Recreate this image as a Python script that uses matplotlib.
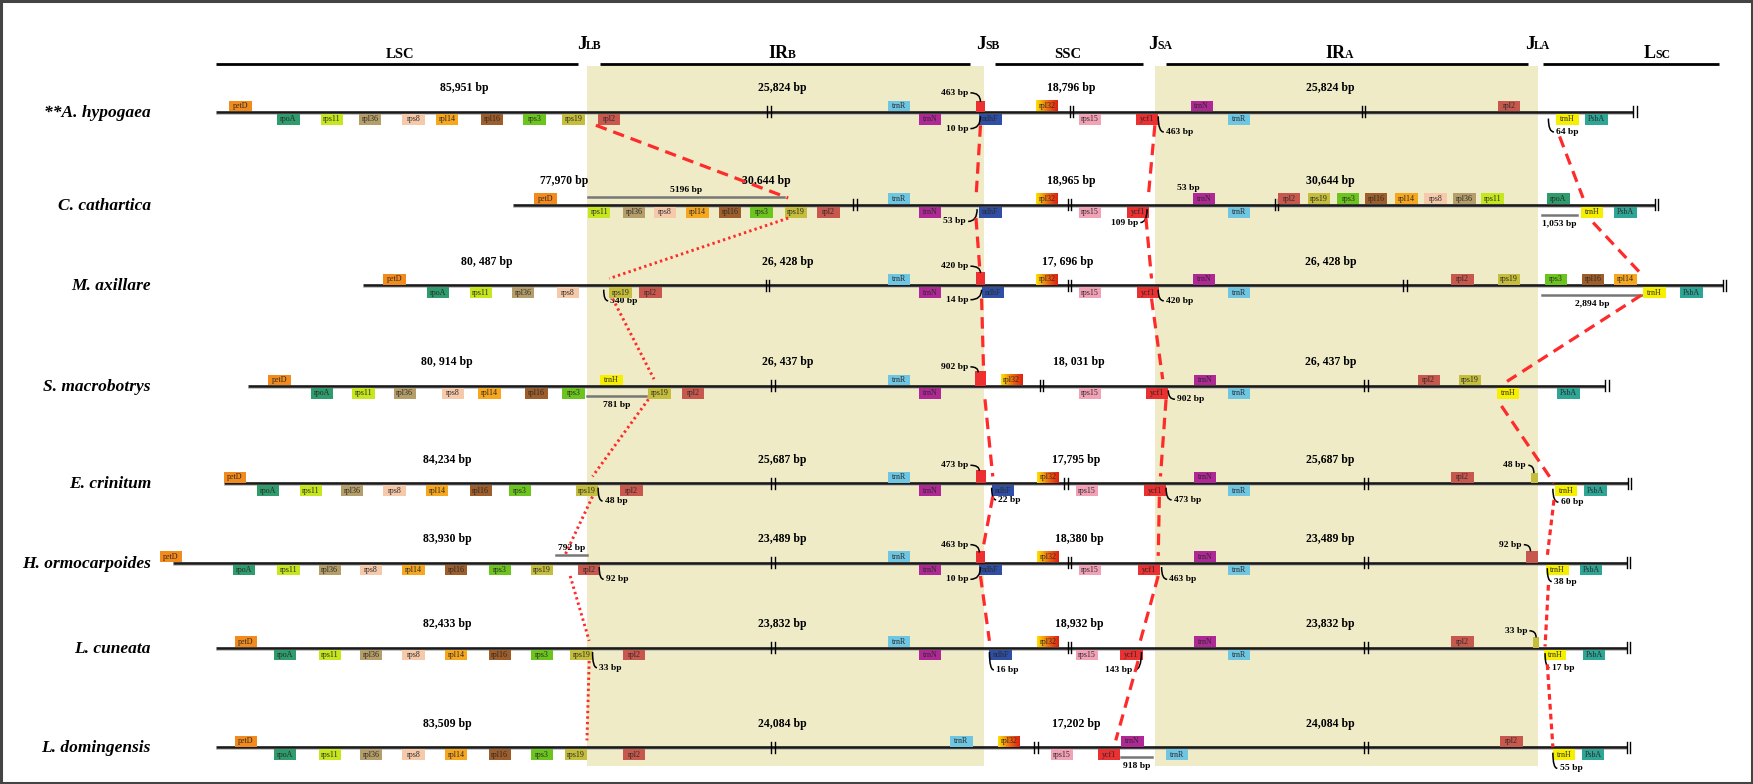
import numpy as np
import matplotlib.pyplot as plt
import matplotlib.patches as mpatches
from matplotlib.path import Path
from matplotlib.colors import LinearSegmentedColormap

plt.rcParams['font.family'] = ['Liberation Serif', 'DejaVu Serif']

# species and region sizes
species = ["**A. hypogaea", "C. cathartica", "M. axillare", "S. macrobotrys",
           "E. crinitum", "H. ormocarpoides", "L. cuneata", "L. domingensis"]
lsc_len = ["85,951 bp", "77,970 bp", "80, 487 bp", "80, 914 bp",
           "84,234 bp", "83,930 bp", "82,433 bp", "83,509 bp"]
ir_len = ["25,824 bp", "30,644 bp", "26, 428 bp", "26, 437 bp",
          "25,687 bp", "23,489 bp", "23,832 bp", "24,084 bp"]
ssc_len = ["18,796 bp", "18,965 bp", "17, 696 bp", "18, 031 bp",
           "17,795 bp", "18,380 bp", "18,932 bp", "17,202 bp"]

# genes: (name, start, side)  u = above line, d = below line
hyp_genes = [("petD", 205, "u"), ("rpoA", 248, "d"), ("rps11", 287, "d"), ("rpl36", 321, "d"),
             ("rps8", 360, "d"), ("rpl14", 390, "d"), ("rpl16", 430, "d"), ("rps3", 468, "d"),
             ("rps19", 503, "d"), ("rpl2", 535, "d"), ("trnR", 794, "u"), ("trnN", 822, "d"),
             ("ndhF", 876, "d"), ("rpl32", 927, "u"), ("rps15", 965, "d"), ("ycf1", 1016, "d"),
             ("trnN", 1065, "u"), ("trnR", 1098, "d"), ("rpl2", 1340, "u"), ("trnH", 1392, "d"),
             ("PsbA", 1418, "d")]
cat_genes = [("petD", 478, "u"), ("rps11", 526, "d"), ("rpl36", 557, "d"), ("rps8", 585, "d"),
             ("rpl14", 614, "d"), ("rpl16", 643, "d"), ("rps3", 671, "d"), ("rps19", 702, "d"),
             ("rpl2", 731, "d"), ("trnR", 794, "u"), ("trnN", 822, "d"), ("ndhF", 876, "d"),
             ("rpl32", 927, "u"), ("rps15", 965, "d"), ("ycf1", 1008, "d"), ("trnN", 1067, "u"),
             ("trnR", 1098, "d"), ("rpl2", 1143, "u"), ("rps19", 1170, "u"), ("rps3", 1196, "u"),
             ("rpl16", 1221, "u"), ("rpl14", 1248, "u"), ("rps8", 1274, "u"), ("rpl36", 1300, "u"),
             ("rps11", 1325, "u"), ("rpoA", 1384, "u"), ("trnH", 1414, "d"), ("PsbA", 1444, "d")]
axi_genes = [("petD", 343, "u"), ("rpoA", 382, "d"), ("rps11", 420, "d"), ("rpl36", 458, "d"),
             ("rps8", 498, "d"), ("rps19", 545, "d"), ("rpl2", 572, "d"), ("trnR", 794, "u"),
             ("trnN", 822, "d"), ("ndhF", 878, "d"), ("rpl32", 927, "u"), ("rps15", 965, "d"),
             ("ycf1", 1017, "d"), ("trnN", 1067, "u"), ("trnR", 1098, "d"), ("rpl2", 1298, "u"),
             ("rps19", 1340, "u"), ("rps3", 1382, "u"), ("rpl16", 1415, "u"), ("rpl14", 1444, "u"),
             ("trnH", 1470, "d"), ("PsbA", 1503, "d")]
mac_genes = [("petD", 240, "u"), ("rpoA", 278, "d"), ("rps11", 315, "d"), ("rpl36", 352, "d"),
             ("rps8", 395, "d"), ("rpl14", 428, "d"), ("rpl16", 470, "d"), ("rps3", 503, "d"),
             ("trnH", 537, "u"), ("rps19", 580, "d"), ("rpl2", 610, "d"), ("trnR", 794, "u"),
             ("trnN", 822, "d"), ("rpl32", 895, "u"), ("rps15", 965, "d"), ("ycf1", 1025, "d"),
             ("trnN", 1068, "u"), ("trnR", 1098, "d"), ("rpl2", 1268, "u"), ("rps19", 1305, "u"),
             ("trnH", 1339, "d"), ("PsbA", 1393, "d")]
cri_genes = [("petD", 200, "u"), ("rpoA", 230, "d"), ("rps11", 268, "d"), ("rpl36", 305, "d"),
             ("rps8", 343, "d"), ("rpl14", 381, "d"), ("rpl16", 420, "d"), ("rps3", 455, "d"),
             ("rps19", 515, "d"), ("rpl2", 555, "d"), ("trnR", 794, "u"), ("trnN", 822, "d"),
             ("ndhF", 887, "d"), ("rpl32", 928, "u"), ("rps15", 962, "d"), ("ycf1", 1023, "d"),
             ("trnN", 1068, "u"), ("trnR", 1098, "d"), ("rpl2", 1298, "u"), ("trnH", 1391, "d"),
             ("PsbA", 1417, "d")]
orm_genes = [("petD", 143, "u"), ("rpoA", 208, "d"), ("rps11", 248, "d"), ("rpl36", 285, "d"),
             ("rps8", 322, "d"), ("rpl14", 360, "d"), ("rpl16", 398, "d"), ("rps3", 437, "d"),
             ("rps19", 475, "d"), ("rpl2", 517, "d"), ("trnR", 794, "u"), ("trnN", 822, "d"),
             ("ndhF", 876, "d"), ("rpl32", 928, "u"), ("rps15", 965, "d"), ("ycf1", 1018, "d"),
             ("trnN", 1068, "u"), ("trnR", 1098, "d"), ("trnH", 1383, "d"), ("PsbA", 1413, "d")]
cun_genes = [("petD", 210, "u"), ("rpoA", 245, "d"), ("rps11", 285, "d"), ("rpl36", 322, "d"),
             ("rps8", 360, "d"), ("rpl14", 398, "d"), ("rpl16", 437, "d"), ("rps3", 475, "d"),
             ("rps19", 510, "d"), ("rpl2", 557, "d"), ("trnR", 794, "u"), ("trnN", 822, "d"),
             ("ndhF", 885, "d"), ("rpl32", 928, "u"), ("rps15", 962, "d"), ("ycf1", 1002, "d"),
             ("trnN", 1068, "u"), ("trnR", 1098, "d"), ("rpl2", 1298, "u"), ("trnH", 1381, "d"),
             ("PsbA", 1416, "d")]
dom_genes = [("petD", 210, "u"), ("rpoA", 245, "d"), ("rps11", 285, "d"), ("rpl36", 322, "d"),
             ("rps8", 360, "d"), ("rpl14", 398, "d"), ("rpl16", 437, "d"), ("rps3", 475, "d"),
             ("rps19", 505, "d"), ("rpl2", 557, "d"), ("trnR", 850, "u"), ("rpl32", 893, "u"),
             ("rps15", 940, "d"), ("ycf1", 982, "d"), ("trnN", 1003, "u"), ("trnR", 1043, "d"),
             ("rpl2", 1342, "u"), ("trnH", 1389, "d"), ("PsbA", 1415, "d")]
all_genes = [hyp_genes, cat_genes, axi_genes, mac_genes, cri_genes, orm_genes, cun_genes, dom_genes]

# genome line extent and break marks
line_start = [193, 459, 325, 222, 200, 155, 193, 193]
line_end = [1461, 1480, 1541, 1436, 1456, 1455, 1455, 1455]
breaks = [[686, 957, 1218], [763, 955, 1140], [685, 955, 1255], [690, 930, 1220],
          [690, 952, 1220], [690, 955, 1220], [690, 955, 1220], [690, 925, 1220]]

# genes crossing the junctions: (row, start, width, height, gene)
junction_boxes = [(0, 873, 8, 10, "ycf1"), (2, 873, 8, 12, "ycf1"), (3, 872, 10, 13, "ycf1"),
                  (4, 873, 9, 12, "ycf1"), (5, 873, 8, 10, "ycf1"), (4, 1369, 7, 9, "rps19"),
                  (5, 1365, 11, 10, "rpl2"), (6, 1371, 6, 9, "rps19")]

# distance spans: (row, x0, x1, side, label)
spans = [(1, 526, 701, "u", "5196 bp"), (1, 1379, 1411, "d", "1,053 bp"),
         (2, 1379, 1469, "d", "2,894 bp"), (3, 525, 578, "d", "781 bp"),
         (5, 497, 525, "u", "792 bp"), (7, 1003, 1030, "d", "918 bp")]

# distance notes: (row, text, tx, dy, ha, hook_x, hook_dy)
notes = [(0, "463 bp", 866, -17, "right", 877, -9), (0, "10 bp", 866, 15, "right", 877, 4),
         (0, "463 bp", 1043, 18, "left", 1036, 4), (0, "64 bp", 1392, 18, "left", 1385, 6),
         (1, "53 bp", 864, 15, "right", 874, 4), (1, "109 bp", 1018, 16, "right", 1026, 4),
         (1, "53 bp", 1053, -15, "left", None, 0),
         (2, "420 bp", 866, -17, "right", 877, -11), (2, "14 bp", 866, 13, "right", 878, 4),
         (2, "420 bp", 1043, 14, "left", 1036, 4), (2, "540 bp", 546, 14, "left", 540, 4),
         (3, "902 bp", 866, -17, "right", 875, -12), (3, "902 bp", 1053, 12, "left", 1045, 4),
         (4, "473 bp", 866, -16, "right", 876, -11), (4, "22 bp", 893, 15, "left", 887, 4),
         (4, "473 bp", 1050, 15, "left", 1043, 4), (4, "48 bp", 541, 16, "left", 535, 4),
         (4, "48 bp", 1365, -16, "right", 1372, -9), (4, "60 bp", 1396, 17, "left", 1389, 5),
         (5, "463 bp", 866, -16, "right", 876, -9), (5, "10 bp", 866, 15, "right", 877, 4),
         (5, "463 bp", 1046, 15, "left", 1039, 4), (5, "92 bp", 542, 15, "left", 536, 4),
         (5, "92 bp", 1361, -16, "right", 1369, -10), (5, "38 bp", 1390, 17, "left", 1384, 5),
         (6, "16 bp", 891, 20, "left", 885, 4), (6, "143 bp", 1013, 20, "right", 1021, 4),
         (6, "33 bp", 536, 18, "left", 530, 4), (6, "33 bp", 1366, -15, "right", 1374, -9),
         (6, "17 bp", 1388, 18, "left", 1382, 5), (7, "55 bp", 1395, 19, "left", 1389, 5)]

# red junction connectors: x at the upper row, x at the lower row, y offsets from the rows
jlb_top = [533, 705, 548, 580, 530, 510, 527]
jlb_bot = [705, 545, 585, 530, 505, 527, 525]
jsb_top = [877, 873, 878, 881, 888, 877]
jsb_bot = [873, 877, 880, 888, 878, 885]
jsa_top = [1033, 1025, 1030, 1043, 1037, 1036, 1018]
jsa_bot = [1027, 1030, 1040, 1038, 1036, 1020, 998]
jla_top = [1395, 1425, 1468, 1343, 1390, 1385, 1384]
jla_bot = [1416, 1469, 1348, 1390, 1384, 1382, 1389]
jla_dy_top = [22, 16, 9, 18, 15, 20, 15]
jla_dy_bot = [-6, -9, -4, 0, -6, -1, 0]

row_y = [100, 183, 255, 345, 432, 503, 579, 668]
lsc_x = [415, 505, 435, 400, 400, 400, 400, 400]
ir_b_x = [700, 685, 705, 705, 700, 700, 700, 700]
ssc_x = [958, 958, 955, 965, 963, 965, 965, 963]
ir_a_x = [1190, 1190, 1190, 1190, 1190, 1190, 1190, 1190]

gene_colors = {"petD": "#F28A1C", "rpoA": "#2E9C6C", "rps11": "#C6E61E", "rpl36": "#B59E6A",
               "rps8": "#F6C9AA", "rpl14": "#F7A71E", "rpl16": "#9E5E2C", "rps3": "#6CC41E",
               "rps19": "#C4BE3C", "rpl2": "#C8584E", "trnR": "#6EC6E2", "trnN": "#B02896",
               "ndhF": "#2F4FA6", "rps15": "#F2A2B6", "ycf1": "#EA3030", "trnH": "#F6F000",
               "PsbA": "#2EA696"}
shade = "#EEEBC6"
red = "#FF2A2A"
grad = LinearSegmentedColormap.from_list("g", ["#FFE000", "#F07010", "#E02010"])

W, H = 1568, 701
fig = plt.figure(figsize=(17.53, 7.84), dpi=100)
ax = fig.add_axes([0, 0, 1, 1])
ax.axis("off")

# frame
ax.add_patch(mpatches.Rectangle((1, 1), W - 2, H - 2, fill=False, ec="#444444", lw=2.2, zorder=10))

# IR shading
ax.add_patch(mpatches.Rectangle((525, 59), 355, 626, fc=shade, ec="none", zorder=0))
ax.add_patch(mpatches.Rectangle((1033, 59), 343, 626, fc=shade, ec="none", zorder=0))

# header
bold = dict(fontweight="bold", color="black", va="baseline")
for x0, x1 in [(193, 517), (537, 868), (890, 1022), (1043, 1367), (1380, 1538)]:
    ax.plot([x0, x1], [57, 57], color="black", lw=2, solid_capstyle="butt")
for x, sub in [(516, "LB"), (873, "SB"), (1027, "SA"), (1364, "LA")]:
    ax.text(x, 44, "J", fontsize=14, **bold)
    ax.text(x + 8, 44, sub, fontsize=8.5, **bold)
ax.text(358, 52, "LSC", fontsize=10.5, ha="center", **bold)
ax.text(955, 52, "SSC", fontsize=10.5, ha="center", **bold)
ax.text(705, 52, "IR", fontsize=13, ha="right", **bold)
ax.text(705, 52, "B", fontsize=8.5, ha="left", **bold)
ax.text(1203, 52, "IR", fontsize=13, ha="right", **bold)
ax.text(1203, 52, "A", fontsize=8.5, ha="left", **bold)
ax.text(1481, 52, "L", fontsize=13, ha="right", **bold)
ax.text(1481, 52, "SC", fontsize=8.5, ha="left", **bold)


def brk(x, y):
    for dx in (0, 3.2):
        ax.plot([x + dx, x + dx], [y - 5, y + 5], color="black", lw=1.0, zorder=4)


for i, y in enumerate(row_y):
    ax.text(135, y + 1, species[i], fontsize=12.5, style="italic", fontweight="bold",
            ha="right", va="center")
    ax.plot([line_start[i], line_end[i]], [y, y], color="#1A1A1A", lw=1.9,
            solid_capstyle="butt", zorder=3)
    ax.plot([line_start[i], line_end[i]], [y + 1.8, y + 1.8], color="#BBBBBB", lw=0.6, zorder=3)
    for b in breaks[i]:
        brk(b, y)
    brk(line_end[i], y)
    for txt, x in [(lsc_len[i], lsc_x[i]), (ir_len[i], ir_b_x[i]), (ssc_len[i], ssc_x[i]),
                   (ir_len[i], ir_a_x[i])]:
        ax.text(x, y - 21, txt, fontsize=8.5, fontweight="bold", ha="center", va="center")
    for name, x, side in all_genes[i]:
        top = y - 10 if side == "u" else y + 2
        if name == "rpl32":
            ax.imshow(np.linspace(0, 1, 50).reshape(1, -1), cmap=grad, aspect="auto",
                      extent=(x, x + 19, top + 9.5, top), zorder=5)
        else:
            ax.add_patch(mpatches.Rectangle((x, top), 20, 9.5, fc=gene_colors[name],
                                            ec="none", zorder=5))
        ax.text(x + 10, top + 4.8, name, fontsize=5.8, ha="center", va="center",
                color="#2A2A2A", zorder=6)

ax.set_xlim(0, W)
ax.set_ylim(H, 0)

for r, x, w, h, g in junction_boxes:
    y = row_y[r]
    ax.add_patch(mpatches.Rectangle((x, y - h), w, h, fc=gene_colors[g], ec="none", zorder=5))

for r, x0, x1, side, lab in spans:
    y = row_y[r]
    yy = y - 7 if side == "u" else y + 9
    ax.plot([x0, x1], [yy, yy], color="#777777", lw=1.8, zorder=4)
    ty = yy - 6 if side == "u" else yy + 8
    ax.text((x0 + x1) / 2, ty, lab, fontsize=6.8, fontweight="bold", ha="center", va="center")

for r, txt, tx, dy, ha, hx, hdy in notes:
    y = row_y[r]
    ty = y + dy
    ax.text(tx, ty, txt, fontsize=6.8, fontweight="bold", ha=ha, va="center")
    if hx is not None:
        ex = tx + 2 if ha == "right" else tx - 2
        p = Path([(hx, y + hdy), (hx, ty), (ex, ty)], [Path.MOVETO, Path.CURVE3, Path.CURVE3])
        ax.add_patch(mpatches.PathPatch(p, fc="none", ec="black", lw=1.1, zorder=6))

dash = dict(color=red, lw=2.3, dashes=(3.6, 2.2), zorder=7)
short = dict(color=red, lw=2.3, dashes=(1.8, 1.3), zorder=7)
dots = dict(color=red, lw=2.1, linestyle=(0, (0.8, 1.1)), zorder=7)


def connect(tops, bots, styles, dy_top=None, dy_bot=None):
    for k in range(len(tops)):
        a = 12 if dy_top is None else dy_top[k]
        b = -6 if dy_bot is None else dy_bot[k]
        ax.plot([tops[k], bots[k]], [row_y[k] + a, row_y[k + 1] + b], **styles[k])


connect(jlb_top, jlb_bot, [dash] + [dots] * 6)
connect(jsb_top, jsb_bot, [dash] * 6)
connect(jsa_top, jsa_bot, [dash] * 7)
connect(jla_top, jla_bot, [dash] * 4 + [short] * 3, jla_dy_top, jla_dy_bot)

fig.savefig("out.png", dpi=100)
